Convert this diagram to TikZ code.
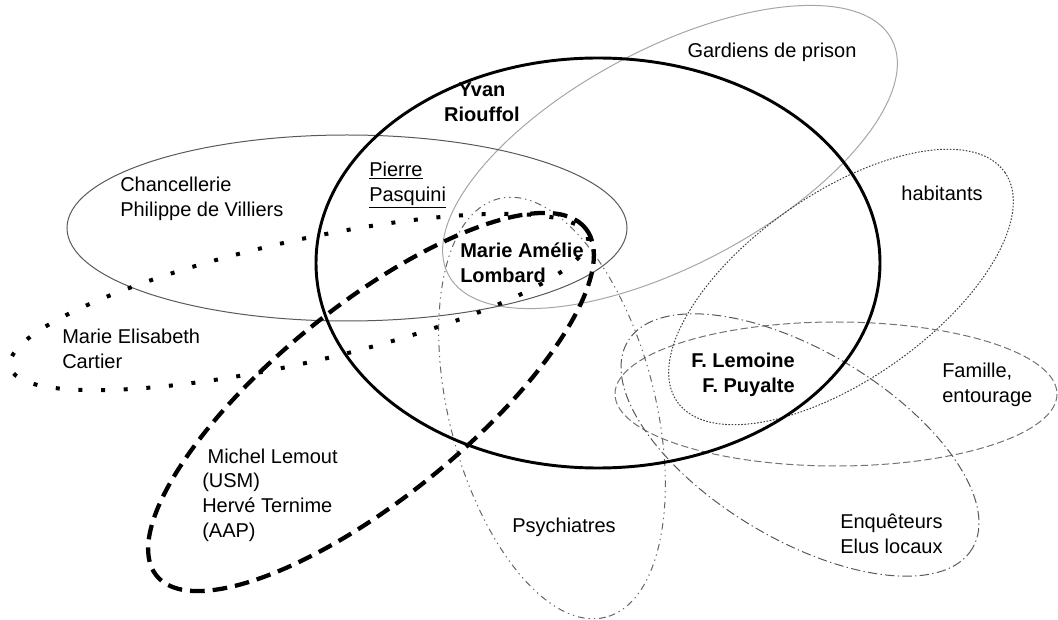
\documentclass[tikz,border=0pt]{standalone}
\usepackage{fontspec}
\setmainfont{Liberation Sans}

\begin{document}
\begin{tikzpicture}[x=0.75pt,y=-0.75pt,
  every node/.style={font=\fontsize{15}{18.5}\selectfont,inner sep=0pt},
  heavy/.style={font=\fontsize{15}{18.5}\selectfont\bfseries},
  core/.style={line width=2.2pt},
  chancel/.style={draw=black!65,line width=0.75pt},
  gardiens/.style={draw=black!35,line width=0.75pt},
  habitants/.style={draw=black!75,line width=0.75pt,dash pattern=on 1.2pt off 1.2pt},
  famille/.style={draw=black!55,line width=0.75pt,dash pattern=on 5.5pt off 2.5pt},
  enquete/.style={draw=black!65,line width=0.75pt,dash pattern=on 7pt off 2.5pt on 1pt off 2.5pt},
  psy/.style={draw=black!60,line width=0.75pt,dash pattern=on 5pt off 3pt on 1pt off 3pt on 1pt off 3pt},
  syndic/.style={line width=3.2pt,dash pattern=on 11pt off 6pt},
  cartier/.style={line width=3pt,dash pattern=on 3pt off 14pt}]
\useasboundingbox (0,0) rectangle (1058,620);
\draw[gardiens,rotate around={28:(670,157)}] (670,157) ellipse [x radius=251,y radius=108];
\draw[chancel] (347,228) ellipse [x radius=280,y radius=93];
\draw[habitants,rotate around={35:(841,287)}] (841,287) ellipse [x radius=200,y radius=93];
\draw[famille] (836,394) ellipse [x radius=221,y radius=72];
\draw[enquete,rotate around={-31:(800,445)}] (800,445) ellipse [x radius=201,y radius=94];
\draw[psy,rotate around={-75.6:(552,408)}] (552,408) ellipse [x radius=216,y radius=103];
\draw[core] (598,263) ellipse [x radius=282,y radius=205];
\draw[syndic,rotate around={39:(371,402)}] (371,402) ellipse [x radius=276,y radius=96];
\draw[cartier,rotate around={12.7:(299,302)}] (299,302) ellipse [x radius=296,y radius=61];

\node[heavy,align=center] (rioufol) at (482,102) {Yvan\\Riouffol};
\node (gardiens) at (772,52) {Gardiens de prison};
\node[align=left,anchor=west] (chancellerie) at (120,199) {Chancellerie\\Philippe de Villiers};
\node[align=left,anchor=west] (pasquini) at (369,185) {\underline{Pierre}\\\underline{Pasquini}};
\node[heavy,align=left,anchor=west] (lombard) at (460,263) {Marie Amélie\\Lombard};
\node (habitants) at (942,193) {habitants};
\node[align=left,anchor=west] (cartier) at (62,349) {Marie Elisabeth\\Cartier};
\node[heavy,align=right,anchor=east] (lemoine) at (795,375) {F. Lemoine\\F. Puyalte};
\node[align=left,anchor=west] (famille) at (942,385) {Famille,\\entourage};
\node[align=left,anchor=west] (syndicats) at (202,495) {\hspace{4pt}Michel Lemout\\(USM)\\Hervé Ternime\\(AAP)};
\node (psychiatres) at (564,527) {Psychiatres};
\node[align=left,anchor=west] (enqueteurs) at (840,534) {Enquêteurs\\Elus locaux};
\end{tikzpicture}
\end{document}
